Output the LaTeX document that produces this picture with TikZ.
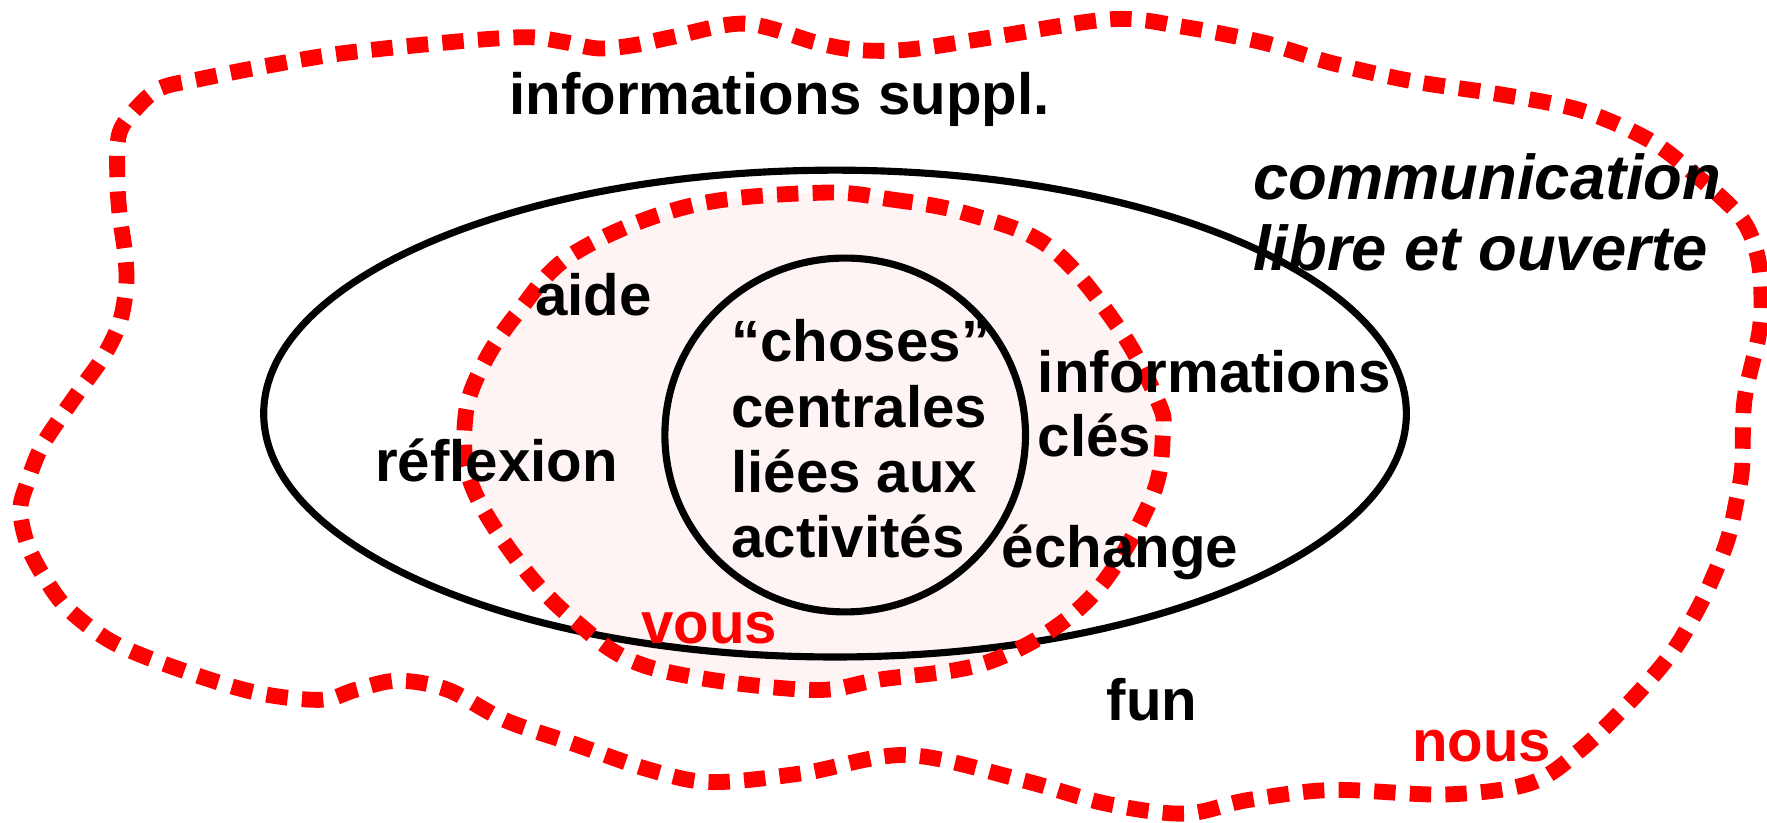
\documentclass[tikz,border=0pt]{standalone}
\usepackage{fontspec}
\setmainfont{Liberation Sans}
\usetikzlibrary{shapes.geometric}
\definecolor{vousfill}{RGB}{255,244,244}
\begin{document}
\begin{tikzpicture}[x=0.1mm,y=-0.1mm,
  reddash/.style={draw=red, line width=4pt, dash pattern=on 5.4pt off 3.6pt},
  blackline/.style={draw=black, line width=1.8pt},
  ringshape/.style={ellipse, blackline, inner sep=0pt, outer sep=0pt},
  lbl/.style={font=\fontsize{14.7}{16.5}\selectfont\bfseries, anchor=base west, inner sep=0pt, outer sep=0pt},
  redlbl/.style={lbl, text=red},
  comlbl/.style={font=\fontsize{16}{17.9}\selectfont\bfseries\itshape, anchor=base west, inner sep=0pt, outer sep=0pt},
]
\useasboundingbox (0,0) rectangle (1568,730);

% "vous" zone fill
\fill[vousfill] plot[smooth cycle, tension=0.6] coordinates {
  (728,171) (791,177) (856,189) (931,219) (992,290) (1027,355) (1032,384)
  (1021,444) (966,532) (881,586) (781,603) (713,612) (576,592) (509,550)
  (459,497) (418,429) (413,370) (428,325) (459,278) (509,225) (611,183)};

% black ellipse and inner circle
\node[ringshape, minimum width=101.4mm, minimum height=43.2mm] (bigellipse) at (741,367) {};
\node[ringshape, minimum width=32mm, minimum height=31.4mm] (centercircle) at (750,386) {};

% "vous" dashed outline
\draw[reddash] plot[smooth cycle, tension=0.6] coordinates {
  (728,171) (791,177) (856,189) (931,219) (992,290) (1027,355) (1032,384)
  (1021,444) (966,532) (881,586) (781,603) (713,612) (576,592) (509,550)
  (459,497) (418,429) (413,370) (428,325) (459,278) (509,225) (611,183)};

% "nous" dashed outline
\draw[reddash] plot[smooth cycle, tension=0.55] coordinates {
  (122,95) (143,78) (178,70) (239,58) (306,47) (404,37) (467,33) (499,37)
  (531,43) (563,40) (596,33) (661,21) (725,38) (757,44) (790,45) (823,42)
  (881,33) (987,17) (1051,24)
  (1122,38) (1182,56) (1253,72) (1333,84) (1403,98) (1463,124) (1503,154)
  (1544,192) (1559,225) (1563,260) (1561,296) (1548,355) (1546,414)
  (1541,444) (1533,479) (1518,517) (1503,547) (1483,580) (1448,621)
  (1403,665) (1358,695) (1283,705) (1182,701) (1107,710) (1051,722)
  (981,713) (906,692) (805,670) (713,686) (631,694) (576,683) (509,660)
  (448,639) (397,612) (353,604) (316,612) (285,621) (229,615) (168,597)
  (102,571) (61,541) (41,515) (25,485) (18,453) (24,429) (36,398) (54,370)
  (73,343) (92,316) (106,287) (112,254) (111,225) (106,189) (104,154) (106,118)};

% labels
\node[lbl] (infosuppl) at (452,102) {informations suppl.};
\node[comlbl] (comm) at (1112,177) {\begin{tabular}[t]{@{}l@{}}communication\\libre et ouverte\end{tabular}};
\node[lbl] (aide) at (475,280) {aide};
\node[lbl] (reflexion) at (333,427) {réflexion};
\node[lbl] (choses) at (649,321) {\begin{tabular}[t]{@{}l@{}}“choses”\\centrales\\liées aux\\activités\end{tabular}};
\node[lbl, font=\fontsize{14.7}{16.2}\selectfont\bfseries] (infocles) at (921,348) {\begin{tabular}[t]{@{}l@{}}informations\\clés\end{tabular}};
\node[lbl] (echange) at (889,504) {échange};
\node[redlbl] (vous) at (569,571) {vous};
\node[lbl] (fun) at (982,639) {fun};
\node[redlbl] (nous) at (1253,676) {nous};
\end{tikzpicture}
\end{document}
